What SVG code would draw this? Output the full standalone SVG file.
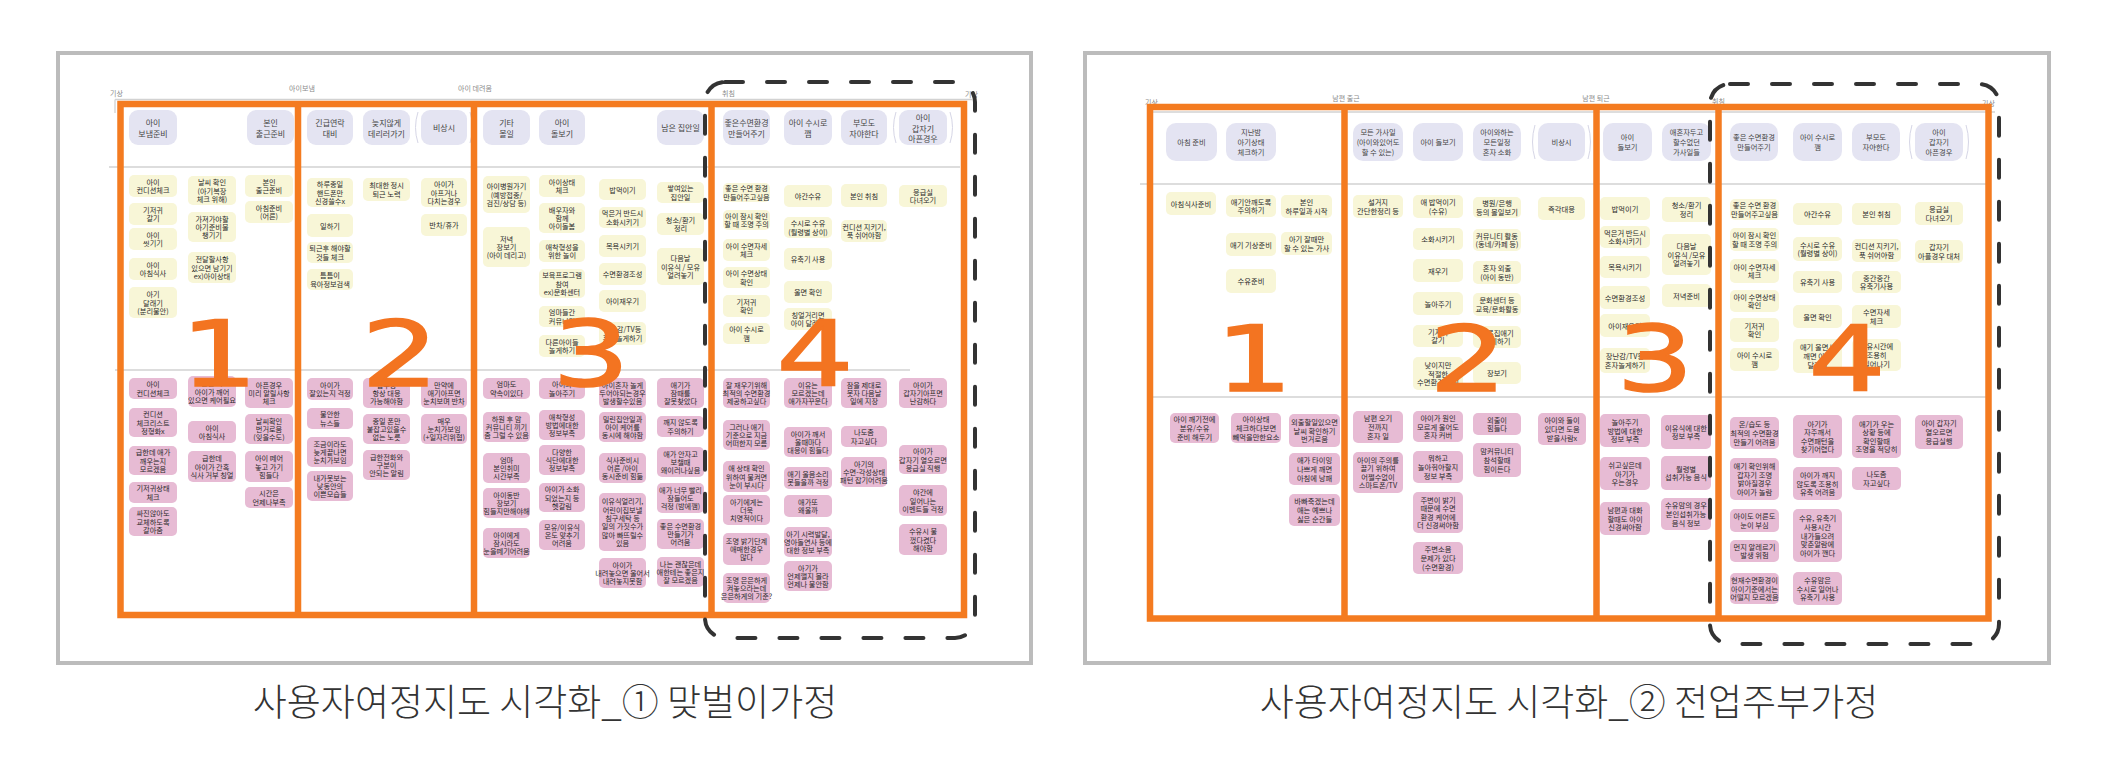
<svg xmlns="http://www.w3.org/2000/svg" width="2109" height="778" viewBox="0 0 2109 778">
<style>
.y{fill:#f8f6d7}.p{fill:#e7bbd4}.h{fill:#e4e4f2}
.t{font-family:"Noto Sans CJK KR","Noto Sans",sans-serif;font-size:7.2px;fill:#2a2a2a;text-anchor:middle;dominant-baseline:central}
.r .t{font-size:7.3px}
.ht{font-size:8px;fill:#444}
.lab{font-family:"Noto Sans CJK KR","Noto Sans",sans-serif;font-size:7px;fill:#8a8a8a}
.dg{font-family:"DejaVu Sans",sans-serif;font-size:122px;fill:#f37421;stroke:#f37421;stroke-width:2;text-anchor:middle}
.cap{font-family:"Noto Sans CJK KR","Noto Sans",sans-serif;font-size:37px;font-weight:300;fill:#333;text-anchor:middle}
.sep{stroke:#d2d2d2;stroke-width:1.3;fill:none}
.par{stroke:#d6d6e6;stroke-width:1;fill:none}
.of{fill:none;stroke:#f47b20;stroke-width:6.5}
.dash{fill:none;stroke:#333;stroke-width:4;stroke-dasharray:18 24;stroke-linecap:round}
.pan{fill:#fff;stroke:#bcbcbc;stroke-width:4}
</style>
<rect width="2109" height="778" fill="#fff"/>

<g id="journey-1">
<rect class="pan" x="58" y="53" width="973" height="610"/>
<text class="lab" x="110" y="96">기상</text>
<text class="lab" x="302" y="91" text-anchor="middle">아이보냄</text>
<text class="lab" x="475" y="91" text-anchor="middle">아이 데려옴</text>
<text class="lab" x="722" y="96">취침</text>
<text class="lab" x="965" y="97">기상</text>
<path class="sep" d="M115 99.5H972M115 99.5V113M109 167H960M115 370H910"/>

<g id="a-h1"><rect class="h" x="129" y="110" width="48" height="35" rx="9"/><text class="t ht" x="153" y="122.5">아이<tspan x="153" dy="10">보냄준비</tspan></text></g>
<g id="a-h2"><rect class="h" x="247" y="110" width="47" height="35" rx="9"/><text class="t ht" x="270.5" y="122.5">본인<tspan x="270.5" dy="10">출근준비</tspan></text></g>
<g id="a-h3"><rect class="h" x="307" y="110" width="46" height="35" rx="9"/><text class="t ht" x="330" y="122.5">긴급연락<tspan x="330" dy="10">대비</tspan></text></g>
<g id="a-h4"><rect class="h" x="363" y="110" width="47" height="35" rx="9"/><text class="t ht" x="386.5" y="122.5">늦지않게<tspan x="386.5" dy="10">데리러가기</tspan></text></g>
<g id="a-h5"><rect class="h" x="421" y="110" width="46" height="35" rx="9"/><path class="par" d="M418 112Q413 127.5 418 143M470 112Q475 127.5 470 143"/><text class="t ht" x="444" y="127.5">비상시</text></g>
<g id="a-h6"><rect class="h" x="483" y="110" width="47" height="35" rx="9"/><text class="t ht" x="506.5" y="122.5">기타<tspan x="506.5" dy="10">볼일</tspan></text></g>
<g id="a-h7"><rect class="h" x="539" y="110" width="46" height="35" rx="9"/><text class="t ht" x="562" y="122.5">아이<tspan x="562" dy="10">돌보기</tspan></text></g>
<g id="a-h8"><rect class="h" x="657" y="110" width="47" height="35" rx="9"/><text class="t ht" x="680.5" y="127.5">남은 집안일</text></g>
<g id="a-h9"><rect class="h" x="723" y="110" width="47" height="35" rx="9"/><text class="t ht" x="746.5" y="122.5">좋은수면환경<tspan x="746.5" dy="10">만들어주기</tspan></text></g>
<g id="a-h10"><rect class="h" x="784" y="110" width="48" height="35" rx="9"/><text class="t ht" x="808" y="122.5">아이 수시로<tspan x="808" dy="10">깸</tspan></text></g>
<g id="a-h11"><rect class="h" x="841" y="110" width="46" height="35" rx="9"/><text class="t ht" x="864" y="122.5">부모도<tspan x="864" dy="10">자야한다</tspan></text></g>
<g id="a-h12"><rect class="h" x="899" y="110" width="48" height="35" rx="9"/><path class="par" d="M896 112Q891 127.5 896 143M950 112Q955 127.5 950 143"/><text class="t ht" x="923" y="117.5">아이<tspan x="923" dy="10">갑자기</tspan><tspan x="923" dy="10">아픈경우</tspan></text></g>

<g id="a-y1"><rect class="y" x="129" y="175" width="48" height="22" rx="5"/><text class="t" x="153" y="181.9">아이<tspan x="153" dy="8.3">컨디션체크</tspan></text></g>
<g id="a-y2"><rect class="y" x="129" y="203" width="48" height="22" rx="5"/><text class="t" x="153" y="209.9">기저귀<tspan x="153" dy="8.3">갈기</tspan></text></g>
<g id="a-y3"><rect class="y" x="129" y="228" width="48" height="22" rx="5"/><text class="t" x="153" y="234.9">아이<tspan x="153" dy="8.3">씻기기</tspan></text></g>
<g id="a-y4"><rect class="y" x="129" y="258" width="48" height="22" rx="5"/><text class="t" x="153" y="264.9">아이<tspan x="153" dy="8.3">아침식사</tspan></text></g>
<g id="a-y5"><rect class="y" x="129" y="287" width="48" height="31" rx="5"/><text class="t" x="153" y="294.2">아기<tspan x="153" dy="8.3">달래기</tspan><tspan x="153" dy="8.3">(분리불안)</tspan></text></g>
<g id="a-y6"><rect class="y" x="188" y="176" width="48" height="29" rx="5"/><text class="t" x="212" y="182.2">날씨 확인<tspan x="212" dy="8.3">(아기복장</tspan><tspan x="212" dy="8.3">체크 위해)</tspan></text></g>
<g id="a-y7"><rect class="y" x="188" y="212" width="48" height="30" rx="5"/><text class="t" x="212" y="218.7">가져가야할<tspan x="212" dy="8.3">아기준비물</tspan><tspan x="212" dy="8.3">챙기기</tspan></text></g>
<g id="a-y8"><rect class="y" x="188" y="252" width="48" height="31" rx="5"/><text class="t" x="212" y="259.2">전달할사항<tspan x="212" dy="8.3">있으면 남기기</tspan><tspan x="212" dy="8.3">ex)아이상태</tspan></text></g>
<g id="a-y9"><rect class="y" x="245" y="175" width="48" height="22" rx="5"/><text class="t" x="269" y="181.9">본인<tspan x="269" dy="8.3">출근준비</tspan></text></g>
<g id="a-y10"><rect class="y" x="245" y="201" width="48" height="22" rx="5"/><text class="t" x="269" y="207.9">아침준비<tspan x="269" dy="8.3">(어른)</tspan></text></g>
<g id="a-y11"><rect class="y" x="307" y="178" width="46" height="29" rx="5"/><text class="t" x="330" y="184.2">하루종일<tspan x="330" dy="8.3">핸드폰만</tspan><tspan x="330" dy="8.3">신경쓸수x</tspan></text></g>
<g id="a-y12"><rect class="y" x="307" y="214" width="46" height="23" rx="5"/><text class="t" x="330" y="225.5">일하기</text></g>
<g id="a-y13"><rect class="y" x="307" y="242" width="46" height="21" rx="5"/><text class="t" x="330" y="248.4">퇴근후 해야할<tspan x="330" dy="8.3">것들 체크</tspan></text></g>
<g id="a-y14"><rect class="y" x="307" y="269" width="46" height="21" rx="5"/><text class="t" x="330" y="275.4">틈틈이<tspan x="330" dy="8.3">육아정보검색</tspan></text></g>
<g id="a-y15"><rect class="y" x="363" y="178" width="47" height="23" rx="5"/><text class="t" x="386.5" y="185.4">최대한 정시<tspan x="386.5" dy="8.3">퇴근 노력</tspan></text></g>
<g id="a-y16"><rect class="y" x="421" y="178" width="46" height="29" rx="5"/><text class="t" x="444" y="184.2">아이가<tspan x="444" dy="8.3">아프거나</tspan><tspan x="444" dy="8.3">다치는경우</tspan></text></g>
<g id="a-y17"><rect class="y" x="421" y="214" width="46" height="22" rx="5"/><text class="t" x="444" y="225">반차/휴가</text></g>
<g id="a-y18"><rect class="y" x="483" y="176" width="47" height="37" rx="5"/><text class="t" x="506.5" y="186.2">아이병원가기<tspan x="506.5" dy="8.3">(예방접종/</tspan><tspan x="506.5" dy="8.3">검진/상담 등)</tspan></text></g>
<g id="a-y19"><rect class="y" x="483" y="227" width="47" height="40" rx="5"/><text class="t" x="506.5" y="238.7">저녁<tspan x="506.5" dy="8.3">장보기</tspan><tspan x="506.5" dy="8.3">(아이 데리고)</tspan></text></g>
<g id="a-y20"><rect class="y" x="539" y="175" width="46" height="22" rx="5"/><text class="t" x="562" y="181.9">아이상태<tspan x="562" dy="8.3">체크</tspan></text></g>
<g id="a-y21"><rect class="y" x="539" y="203" width="46" height="30" rx="5"/><text class="t" x="562" y="209.7">배우자와<tspan x="562" dy="8.3">함께</tspan><tspan x="562" dy="8.3">아이돌봄</tspan></text></g>
<g id="a-y22"><rect class="y" x="539" y="240" width="46" height="22" rx="5"/><text class="t" x="562" y="246.9">애착형성을<tspan x="562" dy="8.3">위한 놀이</tspan></text></g>
<g id="a-y23"><rect class="y" x="539" y="269" width="46" height="29" rx="5"/><text class="t" x="562" y="275.2">보육프로그램<tspan x="562" dy="8.3">참여</tspan><tspan x="562" dy="8.3">ex)문화센터</tspan></text></g>
<g id="a-y24"><rect class="y" x="539" y="306" width="46" height="21" rx="5"/><text class="t" x="562" y="312.4">엄마들간<tspan x="562" dy="8.3">커뮤니티</tspan></text></g>
<g id="a-y25"><rect class="y" x="539" y="335" width="46" height="22" rx="5"/><text class="t" x="562" y="341.9">다른아이들<tspan x="562" dy="8.3">놀게하기</tspan></text></g>
<g id="a-y26"><rect class="y" x="599" y="179" width="47" height="21" rx="5"/><text class="t" x="622.5" y="189.5">밥먹이기</text></g>
<g id="a-y27"><rect class="y" x="599" y="207" width="47" height="21" rx="5"/><text class="t" x="622.5" y="213.4">먹은거 반드시<tspan x="622.5" dy="8.3">소화시키기</tspan></text></g>
<g id="a-y28"><rect class="y" x="599" y="235" width="47" height="22" rx="5"/><text class="t" x="622.5" y="246">목욕시키기</text></g>
<g id="a-y29"><rect class="y" x="599" y="263" width="47" height="22" rx="5"/><text class="t" x="622.5" y="274">수면환경조성</text></g>
<g id="a-y30"><rect class="y" x="599" y="290" width="47" height="22" rx="5"/><text class="t" x="622.5" y="301">아이재우기</text></g>
<g id="a-y31"><rect class="y" x="599" y="322" width="47" height="23" rx="5"/><text class="t" x="622.5" y="329.4">장난감/TV등<tspan x="622.5" dy="8.3">혼자놀게하기</tspan></text></g>
<g id="a-y32"><rect class="y" x="657" y="182" width="47" height="21" rx="5"/><text class="t" x="680.5" y="188.4">쌓여있는<tspan x="680.5" dy="8.3">집안일</tspan></text></g>
<g id="a-y33"><rect class="y" x="657" y="213" width="47" height="22" rx="5"/><text class="t" x="680.5" y="219.9">청소/환기<tspan x="680.5" dy="8.3">정리</tspan></text></g>
<g id="a-y34"><rect class="y" x="657" y="248" width="47" height="37" rx="5"/><text class="t" x="680.5" y="258.2">다음날<tspan x="680.5" dy="8.3">이유식 / 모유</tspan><tspan x="680.5" dy="8.3">얼려놓기</tspan></text></g>
<g id="a-y35"><rect class="y" x="723" y="183" width="47" height="19" rx="5"/><text class="t" x="746.5" y="188.4">좋은 수면 환경<tspan x="746.5" dy="8.3">만들어주고싶음</tspan></text></g>
<g id="a-y36"><rect class="y" x="723" y="210" width="47" height="20" rx="5"/><text class="t" x="746.5" y="215.9">아이 잠시 확인<tspan x="746.5" dy="8.3">할 때 조명 주의</tspan></text></g>
<g id="a-y37"><rect class="y" x="723" y="239" width="47" height="22" rx="5"/><text class="t" x="746.5" y="245.9">아이 수면자세<tspan x="746.5" dy="8.3">체크</tspan></text></g>
<g id="a-y38"><rect class="y" x="723" y="267" width="47" height="21" rx="5"/><text class="t" x="746.5" y="273.4">아이 수면상태<tspan x="746.5" dy="8.3">확인</tspan></text></g>
<g id="a-y39"><rect class="y" x="723" y="295" width="47" height="22" rx="5"/><text class="t" x="746.5" y="301.9">기저귀<tspan x="746.5" dy="8.3">확인</tspan></text></g>
<g id="a-y40"><rect class="y" x="723" y="323" width="47" height="21" rx="5"/><text class="t" x="746.5" y="329.4">아이 수시로<tspan x="746.5" dy="8.3">깸</tspan></text></g>
<g id="a-y41"><rect class="y" x="784" y="185" width="48" height="22" rx="5"/><text class="t" x="808" y="196">야간수유</text></g>
<g id="a-y42"><rect class="y" x="784" y="217" width="48" height="21" rx="5"/><text class="t" x="808" y="223.4">수시로 수유<tspan x="808" dy="8.3">(월령별 상이)</tspan></text></g>
<g id="a-y43"><rect class="y" x="784" y="248" width="48" height="22" rx="5"/><text class="t" x="808" y="259">유축기 사용</text></g>
<g id="a-y44"><rect class="y" x="784" y="281" width="48" height="22" rx="5"/><text class="t" x="808" y="292">울면 확인</text></g>
<g id="a-y45"><rect class="y" x="784" y="308" width="48" height="22" rx="5"/><text class="t" x="808" y="314.9">칭얼거리면<tspan x="808" dy="8.3">아이 달래기</tspan></text></g>
<g id="a-y46"><rect class="y" x="841" y="184" width="46" height="23" rx="5"/><text class="t" x="864" y="195.5">본인 취침</text></g>
<g id="a-y47"><rect class="y" x="841" y="220" width="46" height="22" rx="5"/><text class="t" x="864" y="226.9">컨디션 지키기,<tspan x="864" dy="8.3">푹 쉬어야함</tspan></text></g>
<g id="a-y48"><rect class="y" x="899" y="185" width="48" height="22" rx="5"/><text class="t" x="923" y="191.9">응급실<tspan x="923" dy="8.3">다녀오기</tspan></text></g>

<g id="a-p1"><rect class="p" x="129" y="378" width="48" height="21" rx="5"/><text class="t" x="153" y="384.4">아이<tspan x="153" dy="8.3">컨디션체크</tspan></text></g>
<g id="a-p2"><rect class="p" x="129" y="408" width="48" height="29" rx="5"/><text class="t" x="153" y="414.2">컨디션<tspan x="153" dy="8.3">체크리스트</tspan><tspan x="153" dy="8.3">정형화x</tspan></text></g>
<g id="a-p3"><rect class="p" x="129" y="446" width="48" height="29" rx="5"/><text class="t" x="153" y="452.2">급한데 애가<tspan x="153" dy="8.3">깨우는지</tspan><tspan x="153" dy="8.3">모르겠음</tspan></text></g>
<g id="a-p4"><rect class="p" x="129" y="482" width="48" height="21" rx="5"/><text class="t" x="153" y="488.4">기저귀상태<tspan x="153" dy="8.3">체크</tspan></text></g>
<g id="a-p5"><rect class="p" x="129" y="507" width="48" height="29" rx="5"/><text class="t" x="153" y="513.2">싸진않아도<tspan x="153" dy="8.3">교체하도록</tspan><tspan x="153" dy="8.3">갈아줌</tspan></text></g>
<g id="a-p6"><rect class="p" x="188" y="376" width="48" height="31" rx="5"/><text class="t" x="212" y="383.2">출근 시<tspan x="212" dy="8.3">아이가 깨어</tspan><tspan x="212" dy="8.3">있으면 케어필요</tspan></text></g>
<g id="a-p7"><rect class="p" x="188" y="421" width="48" height="22" rx="5"/><text class="t" x="212" y="427.9">아이<tspan x="212" dy="8.3">아침식사</tspan></text></g>
<g id="a-p8"><rect class="p" x="188" y="451" width="48" height="31" rx="5"/><text class="t" x="212" y="458.2">급한데<tspan x="212" dy="8.3">아이가 간혹</tspan><tspan x="212" dy="8.3">식사 거부 칭얼</tspan></text></g>
<g id="a-p9"><rect class="p" x="245" y="378" width="48" height="30" rx="5"/><text class="t" x="269" y="384.7">아픈경우<tspan x="269" dy="8.3">미리 알릴사항</tspan><tspan x="269" dy="8.3">체크</tspan></text></g>
<g id="a-p10"><rect class="p" x="245" y="414" width="48" height="30" rx="5"/><text class="t" x="269" y="420.7">날씨확인<tspan x="269" dy="8.3">번거로움</tspan><tspan x="269" dy="8.3">(잊을수도)</tspan></text></g>
<g id="a-p11"><rect class="p" x="245" y="451" width="48" height="31" rx="5"/><text class="t" x="269" y="458.2">아이 떼어<tspan x="269" dy="8.3">놓고 가기</tspan><tspan x="269" dy="8.3">힘들다</tspan></text></g>
<g id="a-p12"><rect class="p" x="245" y="487" width="48" height="21" rx="5"/><text class="t" x="269" y="493.4">시간은<tspan x="269" dy="8.3">언제나부족</tspan></text></g>
<g id="a-p13"><rect class="p" x="307" y="378" width="46" height="22" rx="5"/><text class="t" x="330" y="384.9">아이가<tspan x="330" dy="8.3">잘있는지 걱정</tspan></text></g>
<g id="a-p14"><rect class="p" x="307" y="408" width="46" height="21" rx="5"/><text class="t" x="330" y="414.4">불안한<tspan x="330" dy="8.3">뉴스들</tspan></text></g>
<g id="a-p15"><rect class="p" x="307" y="437" width="46" height="30" rx="5"/><text class="t" x="330" y="443.7">조금이라도<tspan x="330" dy="8.3">늦게끝나면</tspan><tspan x="330" dy="8.3">눈치가보임</tspan></text></g>
<g id="a-p16"><rect class="p" x="307" y="471" width="46" height="30" rx="5"/><text class="t" x="330" y="477.7">내가못보는<tspan x="330" dy="8.3">낮동안의</tspan><tspan x="330" dy="8.3">이쁜모습들</tspan></text></g>
<g id="a-p17"><rect class="p" x="363" y="378" width="47" height="30" rx="5"/><text class="t" x="386.5" y="384.7">업무중<tspan x="386.5" dy="8.3">항상 대응</tspan><tspan x="386.5" dy="8.3">가능해야함</tspan></text></g>
<g id="a-p18"><rect class="p" x="363" y="414" width="47" height="30" rx="5"/><text class="t" x="386.5" y="420.7">종일 폰만<tspan x="386.5" dy="8.3">붙잡고있을수</tspan><tspan x="386.5" dy="8.3">없는 노릇</tspan></text></g>
<g id="a-p19"><rect class="p" x="363" y="450" width="47" height="30" rx="5"/><text class="t" x="386.5" y="456.7">급한전화와<tspan x="386.5" dy="8.3">구분이</tspan><tspan x="386.5" dy="8.3">안되는 알림</tspan></text></g>
<g id="a-p20"><rect class="p" x="421" y="378" width="46" height="30" rx="5"/><text class="t" x="444" y="384.7">만약에<tspan x="444" dy="8.3">애기아프면</tspan><tspan x="444" dy="8.3">눈치보며 반차</tspan></text></g>
<g id="a-p21"><rect class="p" x="421" y="414" width="46" height="30" rx="5"/><text class="t" x="444" y="420.7">매우<tspan x="444" dy="8.3">눈치가보임</tspan><tspan x="444" dy="8.3">(+일자리위협)</tspan></text></g>
<g id="a-p22"><rect class="p" x="483" y="378" width="47" height="21" rx="5"/><text class="t" x="506.5" y="384.4">엄마도<tspan x="506.5" dy="8.3">약속이있다</tspan></text></g>
<g id="a-p23"><rect class="p" x="483" y="412" width="47" height="30" rx="5"/><text class="t" x="506.5" y="418.7">하원 후 맘<tspan x="506.5" dy="8.3">커뮤니티 끼기</tspan><tspan x="506.5" dy="8.3">좀 그럴 수 있음</tspan></text></g>
<g id="a-p24"><rect class="p" x="483" y="453" width="47" height="30" rx="5"/><text class="t" x="506.5" y="459.7">엄마<tspan x="506.5" dy="8.3">본인취미</tspan><tspan x="506.5" dy="8.3">시간부족</tspan></text></g>
<g id="a-p25"><rect class="p" x="483" y="488" width="47" height="30" rx="5"/><text class="t" x="506.5" y="494.7">아이동반<tspan x="506.5" dy="8.3">장보기</tspan><tspan x="506.5" dy="8.3">힘들지만해야해</tspan></text></g>
<g id="a-p26"><rect class="p" x="483" y="528" width="47" height="30" rx="5"/><text class="t" x="506.5" y="534.7">아이에게<tspan x="506.5" dy="8.3">잠시라도</tspan><tspan x="506.5" dy="8.3">눈을떼기어려움</tspan></text></g>
<g id="a-p27"><rect class="p" x="539" y="378" width="46" height="21" rx="5"/><text class="t" x="562" y="384.4">아이와<tspan x="562" dy="8.3">놀아주기</tspan></text></g>
<g id="a-p28"><rect class="p" x="539" y="410" width="46" height="30" rx="5"/><text class="t" x="562" y="416.7">애착형성<tspan x="562" dy="8.3">방법에대한</tspan><tspan x="562" dy="8.3">정보부족</tspan></text></g>
<g id="a-p29"><rect class="p" x="539" y="445" width="46" height="30" rx="5"/><text class="t" x="562" y="451.7">다양한<tspan x="562" dy="8.3">식단에대한</tspan><tspan x="562" dy="8.3">정보부족</tspan></text></g>
<g id="a-p30"><rect class="p" x="539" y="483" width="46" height="29" rx="5"/><text class="t" x="562" y="489.2">아이가 소화<tspan x="562" dy="8.3">되었는지 등</tspan><tspan x="562" dy="8.3">헷갈림</tspan></text></g>
<g id="a-p31"><rect class="p" x="539" y="520" width="46" height="30" rx="5"/><text class="t" x="562" y="526.7">모유/이유식<tspan x="562" dy="8.3">온도 맞추기</tspan><tspan x="562" dy="8.3">어려움</tspan></text></g>
<g id="a-p32"><rect class="p" x="599" y="378" width="47" height="30" rx="5"/><text class="t" x="622.5" y="384.7">아이혼자 놀게<tspan x="622.5" dy="8.3">두어야되는경우</tspan><tspan x="622.5" dy="8.3">발생할수있음</tspan></text></g>
<g id="a-p33"><rect class="p" x="599" y="412" width="47" height="30" rx="5"/><text class="t" x="622.5" y="418.7">밀린집안일과<tspan x="622.5" dy="8.3">아이 케어를</tspan><tspan x="622.5" dy="8.3">동시에 해야함</tspan></text></g>
<g id="a-p34"><rect class="p" x="599" y="453" width="47" height="30" rx="5"/><text class="t" x="622.5" y="459.7">식사준비시<tspan x="622.5" dy="8.3">어른 /아이</tspan><tspan x="622.5" dy="8.3">동시준비 힘듦</tspan></text></g>
<g id="a-p35"><rect class="p" x="599" y="493" width="47" height="58" rx="5"/><text class="t" x="622.5" y="501.3">이유식얼리기,<tspan x="622.5" dy="8.3">어린이집보낼</tspan><tspan x="622.5" dy="8.3">침구세탁 등</tspan><tspan x="622.5" dy="8.3">일의 가짓수가</tspan><tspan x="622.5" dy="8.3">많아 빠뜨릴수</tspan><tspan x="622.5" dy="8.3">있음</tspan></text></g>
<g id="a-p36"><rect class="p" x="599" y="558" width="47" height="30" rx="5"/><text class="t" x="622.5" y="564.7">아이가<tspan x="622.5" dy="8.3">내려놓으면 울어서</tspan><tspan x="622.5" dy="8.3">내려놓지못함</tspan></text></g>
<g id="a-p37"><rect class="p" x="657" y="378" width="47" height="30" rx="5"/><text class="t" x="680.5" y="384.7">애기가<tspan x="680.5" dy="8.3">잠때를</tspan><tspan x="680.5" dy="8.3">잘못찾았다</tspan></text></g>
<g id="a-p38"><rect class="p" x="657" y="416" width="47" height="21" rx="5"/><text class="t" x="680.5" y="422.4">깨지 않도록<tspan x="680.5" dy="8.3">주의하기</tspan></text></g>
<g id="a-p39"><rect class="p" x="657" y="447" width="47" height="30" rx="5"/><text class="t" x="680.5" y="453.7">애가 안자고<tspan x="680.5" dy="8.3">보챌때</tspan><tspan x="680.5" dy="8.3">왜이러나싶음</tspan></text></g>
<g id="a-p40"><rect class="p" x="657" y="483" width="47" height="30" rx="5"/><text class="t" x="680.5" y="489.7">애가 너무 빨리<tspan x="680.5" dy="8.3">잠들어도</tspan><tspan x="680.5" dy="8.3">걱정 (밤에깸)</tspan></text></g>
<g id="a-p41"><rect class="p" x="657" y="519" width="47" height="30" rx="5"/><text class="t" x="680.5" y="525.7">좋은 수면환경<tspan x="680.5" dy="8.3">만들기가</tspan><tspan x="680.5" dy="8.3">어려움</tspan></text></g>
<g id="a-p42"><rect class="p" x="657" y="557" width="47" height="30" rx="5"/><text class="t" x="680.5" y="563.7">나는 괜찮은데<tspan x="680.5" dy="8.3">애한테는 좋은지</tspan><tspan x="680.5" dy="8.3">잘 모르겠음</tspan></text></g>
<g id="a-p43"><rect class="p" x="723" y="378" width="47" height="30" rx="5"/><text class="t" x="746.5" y="384.7">잘 재우기위해<tspan x="746.5" dy="8.3">최적의 수면환경</tspan><tspan x="746.5" dy="8.3">제공하고싶다</tspan></text></g>
<g id="a-p44"><rect class="p" x="723" y="420" width="47" height="30" rx="5"/><text class="t" x="746.5" y="426.7">그러나 애기<tspan x="746.5" dy="8.3">기준으로 지금</tspan><tspan x="746.5" dy="8.3">어떠한지 모름</tspan></text></g>
<g id="a-p45"><rect class="p" x="723" y="461" width="47" height="31" rx="5"/><text class="t" x="746.5" y="468.2">애 상태 확인<tspan x="746.5" dy="8.3">위하여 불켜면</tspan><tspan x="746.5" dy="8.3">눈이 부시다</tspan></text></g>
<g id="a-p46"><rect class="p" x="723" y="495" width="47" height="30" rx="5"/><text class="t" x="746.5" y="501.7">아기에게는<tspan x="746.5" dy="8.3">더욱</tspan><tspan x="746.5" dy="8.3">치명적이다</tspan></text></g>
<g id="a-p47"><rect class="p" x="723" y="533" width="47" height="32" rx="5"/><text class="t" x="746.5" y="540.7">조명 밝기단계<tspan x="746.5" dy="8.3">애매한경우</tspan><tspan x="746.5" dy="8.3">많다</tspan></text></g>
<g id="a-p48"><rect class="p" x="723" y="573" width="47" height="30" rx="5"/><text class="t" x="746.5" y="579.7">조명 은은하게<tspan x="746.5" dy="8.3">켜놓으라는데</tspan><tspan x="746.5" dy="8.3">은은하게의 기준?</tspan></text></g>
<g id="a-p49"><rect class="p" x="784" y="378" width="48" height="30" rx="5"/><text class="t" x="808" y="384.7">이유는<tspan x="808" dy="8.3">모르겠는데</tspan><tspan x="808" dy="8.3">애가자꾸운다</tspan></text></g>
<g id="a-p50"><rect class="p" x="784" y="427" width="48" height="30" rx="5"/><text class="t" x="808" y="433.7">아이가 깨서<tspan x="808" dy="8.3">울때마다</tspan><tspan x="808" dy="8.3">대응이 힘들다</tspan></text></g>
<g id="a-p51"><rect class="p" x="784" y="467" width="48" height="22" rx="5"/><text class="t" x="808" y="473.9">애기 울음소리<tspan x="808" dy="8.3">못들을까 걱정</tspan></text></g>
<g id="a-p52"><rect class="p" x="784" y="495" width="48" height="22" rx="5"/><text class="t" x="808" y="501.9">애가또<tspan x="808" dy="8.3">왜울까</tspan></text></g>
<g id="a-p53"><rect class="p" x="784" y="527" width="48" height="30" rx="5"/><text class="t" x="808" y="533.7">아기 시력발달,<tspan x="808" dy="8.3">영아돌연사 등에</tspan><tspan x="808" dy="8.3">대한 정보 부족</tspan></text></g>
<g id="a-p54"><rect class="p" x="784" y="561" width="48" height="30" rx="5"/><text class="t" x="808" y="567.7">아기가<tspan x="808" dy="8.3">언제깰지 몰라</tspan><tspan x="808" dy="8.3">언제나 불안함</tspan></text></g>
<g id="a-p55"><rect class="p" x="841" y="378" width="46" height="30" rx="5"/><text class="t" x="864" y="384.7">잠을 제대로<tspan x="864" dy="8.3">못자 다음날</tspan><tspan x="864" dy="8.3">일에 지장</tspan></text></g>
<g id="a-p56"><rect class="p" x="841" y="426" width="46" height="21" rx="5"/><text class="t" x="864" y="432.4">나도좀<tspan x="864" dy="8.3">자고싶다</tspan></text></g>
<g id="a-p57"><rect class="p" x="841" y="457" width="46" height="30" rx="5"/><text class="t" x="864" y="463.7">아기의<tspan x="864" dy="8.3">수면-각성상태</tspan><tspan x="864" dy="8.3">패턴 잡기어려움</tspan></text></g>
<g id="a-p58"><rect class="p" x="899" y="378" width="48" height="30" rx="5"/><text class="t" x="923" y="384.7">아이가<tspan x="923" dy="8.3">갑자기아프면</tspan><tspan x="923" dy="8.3">난감하다</tspan></text></g>
<g id="a-p59"><rect class="p" x="899" y="445" width="48" height="29" rx="5"/><text class="t" x="923" y="451.2">아이가<tspan x="923" dy="8.3">갑자기 열오르면</tspan><tspan x="923" dy="8.3">응급실 직행</tspan></text></g>
<g id="a-p60"><rect class="p" x="899" y="485" width="48" height="31" rx="5"/><text class="t" x="923" y="492.2">야간에<tspan x="923" dy="8.3">일어나는</tspan><tspan x="923" dy="8.3">이벤트들 걱정</tspan></text></g>
<g id="a-p61"><rect class="p" x="899" y="524" width="48" height="31" rx="5"/><text class="t" x="923" y="531.2">수유시 불<tspan x="923" dy="8.3">껐다켰다</tspan><tspan x="923" dy="8.3">해야함</tspan></text></g>

<g id="a-frame"><rect class="of" x="120.5" y="104" width="843.5" height="511"/><path class="of" d="M298 104V615M474 104V615M711.5 104V615"/></g>
<g id="a-digits">
<text class="dg" transform="translate(219 386) scale(1 0.74)">1</text>
<text class="dg" transform="translate(400 386) scale(1 0.74)">2</text>
<text class="dg" transform="translate(591 386) scale(1 0.74)">3</text>
<text class="dg" transform="translate(815 386) scale(1 0.74)">4</text>
</g>
<rect id="a-focus" class="dash" x="705" y="82" width="270" height="556" rx="20"/>
</g>

<g id="journey-2" class="r">
<rect class="pan" x="1085" y="53" width="964" height="610"/>
<text class="lab" x="1145" y="105">기상</text>
<text class="lab" x="1346" y="101" text-anchor="middle">남편 출근</text>
<text class="lab" x="1596" y="101" text-anchor="middle">남편 퇴근</text>
<text class="lab" x="1712" y="104">취침</text>
<text class="lab" x="1982" y="106">기상</text>
<path class="sep" d="M1148 112H1995M1140 184H1990M1150 397H1990"/>

<g id="b-h1"><rect class="h" x="1166" y="123" width="51" height="38" rx="10"/><text class="t ht" x="1191.5" y="142">아침 준비</text></g>
<g id="b-h2"><rect class="h" x="1226" y="123" width="50" height="38" rx="10"/><text class="t ht" x="1251" y="132">지난밤<tspan x="1251" dy="10">아기상태</tspan><tspan x="1251" dy="10">체크하기</tspan></text></g>
<g id="b-h3"><rect class="h" x="1353" y="123" width="50" height="38" rx="10"/><text class="t ht" x="1378" y="132">모든 가사일<tspan x="1378" dy="10">(아이와있어도</tspan><tspan x="1378" dy="10">할 수 있는)</tspan></text></g>
<g id="b-h4"><rect class="h" x="1413" y="123" width="50" height="38" rx="10"/><text class="t ht" x="1438" y="142">아이 돌보기</text></g>
<g id="b-h5"><rect class="h" x="1473" y="123" width="48" height="38" rx="10"/><text class="t ht" x="1497" y="132">아이와하는<tspan x="1497" dy="10">모든일정</tspan><tspan x="1497" dy="10">혼자 소화</tspan></text></g>
<g id="b-h6"><rect class="h" x="1538" y="123" width="47" height="38" rx="10"/><path class="par" d="M1535 125Q1530 142 1535 159M1588 125Q1593 142 1588 159"/><text class="t ht" x="1561.5" y="142">비상시</text></g>
<g id="b-h7"><rect class="h" x="1603" y="123" width="49" height="38" rx="10"/><text class="t ht" x="1627.5" y="137">아이<tspan x="1627.5" dy="10">돌보기</tspan></text></g>
<g id="b-h8"><rect class="h" x="1662" y="123" width="49" height="38" rx="10"/><text class="t ht" x="1686.5" y="132">애혼자두고<tspan x="1686.5" dy="10">할수없던</tspan><tspan x="1686.5" dy="10">가사일들</tspan></text></g>
<g id="b-h9"><rect class="h" x="1730" y="123" width="48" height="38" rx="10"/><text class="t ht" x="1754" y="137">좋은 수면환경<tspan x="1754" dy="10">만들어주기</tspan></text></g>
<g id="b-h10"><rect class="h" x="1793" y="123" width="49" height="38" rx="10"/><text class="t ht" x="1817.5" y="137">아이 수시로<tspan x="1817.5" dy="10">깸</tspan></text></g>
<g id="b-h11"><rect class="h" x="1852" y="123" width="48" height="38" rx="10"/><text class="t ht" x="1876" y="137">부모도<tspan x="1876" dy="10">자야한다</tspan></text></g>
<g id="b-h12"><rect class="h" x="1915" y="123" width="48" height="38" rx="10"/><path class="par" d="M1912 125Q1907 142 1912 159M1966 125Q1971 142 1966 159"/><text class="t ht" x="1939" y="132">아이<tspan x="1939" dy="10">갑자기</tspan><tspan x="1939" dy="10">아픈경우</tspan></text></g>

<g id="b-y1"><rect class="y" x="1166" y="192" width="50" height="23" rx="5"/><text class="t" x="1191" y="203.5">아침식사준비</text></g>
<g id="b-y2"><rect class="y" x="1226" y="195" width="50" height="22" rx="5"/><text class="t" x="1251" y="201.7">애기안깨도록<tspan x="1251" dy="8.6">주의하기</tspan></text></g>
<g id="b-y3"><rect class="y" x="1226" y="233" width="50" height="23" rx="5"/><text class="t" x="1251" y="244.5">애기 기상준비</text></g>
<g id="b-y4"><rect class="y" x="1226" y="269" width="50" height="24" rx="5"/><text class="t" x="1251" y="281">수유준비</text></g>
<g id="b-y5"><rect class="y" x="1281" y="195" width="51" height="23" rx="5"/><text class="t" x="1306.5" y="202.2">본인<tspan x="1306.5" dy="8.6">하루일과 시작</tspan></text></g>
<g id="b-y6"><rect class="y" x="1281" y="232" width="51" height="23" rx="5"/><text class="t" x="1306.5" y="239.2">아기 잘때만<tspan x="1306.5" dy="8.6">할 수 있는 가사</tspan></text></g>
<g id="b-y7"><rect class="y" x="1353" y="195" width="50" height="23" rx="5"/><text class="t" x="1378" y="202.2">설거지<tspan x="1378" dy="8.6">간단한정리 등</tspan></text></g>
<g id="b-y8"><rect class="y" x="1413" y="195" width="50" height="23" rx="5"/><text class="t" x="1438" y="202.2">애 밥먹이기<tspan x="1438" dy="8.6">(수유)</tspan></text></g>
<g id="b-y9"><rect class="y" x="1413" y="228" width="50" height="22" rx="5"/><text class="t" x="1438" y="239">소화시키기</text></g>
<g id="b-y10"><rect class="y" x="1413" y="259" width="50" height="23" rx="5"/><text class="t" x="1438" y="270.5">재우기</text></g>
<g id="b-y11"><rect class="y" x="1413" y="292" width="50" height="23" rx="5"/><text class="t" x="1438" y="303.5">놀아주기</text></g>
<g id="b-y12"><rect class="y" x="1413" y="325" width="50" height="22" rx="5"/><text class="t" x="1438" y="331.7">기저귀<tspan x="1438" dy="8.6">갈기</tspan></text></g>
<g id="b-y13"><rect class="y" x="1413" y="357" width="50" height="33" rx="5"/><text class="t" x="1438" y="364.9">낮이지만<tspan x="1438" dy="8.6">적절한</tspan><tspan x="1438" dy="8.6">수면환경 조성</tspan></text></g>
<g id="b-y14"><rect class="y" x="1473" y="197" width="48" height="21" rx="5"/><text class="t" x="1497" y="203.2">병원/은행<tspan x="1497" dy="8.6">등의 볼일보기</tspan></text></g>
<g id="b-y15"><rect class="y" x="1473" y="229" width="48" height="22" rx="5"/><text class="t" x="1497" y="235.7">커뮤니티 활동<tspan x="1497" dy="8.6">(동네/카페 등)</tspan></text></g>
<g id="b-y16"><rect class="y" x="1473" y="261" width="48" height="23" rx="5"/><text class="t" x="1497" y="268.2">혼자 외출<tspan x="1497" dy="8.6">(아이 동반)</tspan></text></g>
<g id="b-y17"><rect class="y" x="1473" y="293" width="48" height="23" rx="5"/><text class="t" x="1497" y="300.2">문화센터 등<tspan x="1497" dy="8.6">교육/문화활동</tspan></text></g>
<g id="b-y18"><rect class="y" x="1473" y="326" width="48" height="22" rx="5"/><text class="t" x="1497" y="332.7">다른집애기<tspan x="1497" dy="8.6">놀게하기</tspan></text></g>
<g id="b-y19"><rect class="y" x="1473" y="362" width="48" height="22" rx="5"/><text class="t" x="1497" y="373">장보기</text></g>
<g id="b-y20"><rect class="y" x="1538" y="197" width="47" height="23" rx="5"/><text class="t" x="1561.5" y="208.5">즉각대응</text></g>
<g id="b-y21"><rect class="y" x="1600" y="197" width="50" height="23" rx="5"/><text class="t" x="1625" y="208.5">밥먹이기</text></g>
<g id="b-y22"><rect class="y" x="1600" y="226" width="50" height="22" rx="5"/><text class="t" x="1625" y="232.7">먹은거 반드시<tspan x="1625" dy="8.6">소화시키기</tspan></text></g>
<g id="b-y23"><rect class="y" x="1600" y="256" width="50" height="22" rx="5"/><text class="t" x="1625" y="267">목욕시키기</text></g>
<g id="b-y24"><rect class="y" x="1600" y="286" width="50" height="23" rx="5"/><text class="t" x="1625" y="297.5">수면환경조성</text></g>
<g id="b-y25"><rect class="y" x="1600" y="314" width="50" height="23" rx="5"/><text class="t" x="1625" y="325.5">아이재우기</text></g>
<g id="b-y26"><rect class="y" x="1600" y="348" width="50" height="25" rx="5"/><text class="t" x="1625" y="356.2">장난감/TV등<tspan x="1625" dy="8.6">혼자놀게하기</tspan></text></g>
<g id="b-y27"><rect class="y" x="1662" y="197" width="49" height="25" rx="5"/><text class="t" x="1686.5" y="205.2">청소/환기<tspan x="1686.5" dy="8.6">정리</tspan></text></g>
<g id="b-y28"><rect class="y" x="1662" y="234" width="49" height="41" rx="5"/><text class="t" x="1686.5" y="245.9">다음날<tspan x="1686.5" dy="8.6">이유식 /모유</tspan><tspan x="1686.5" dy="8.6">얼려놓기</tspan></text></g>
<g id="b-y29"><rect class="y" x="1662" y="284" width="49" height="23" rx="5"/><text class="t" x="1686.5" y="295.5">저녁준비</text></g>
<g id="b-y30"><rect class="y" x="1730" y="199" width="49" height="21" rx="5"/><text class="t" x="1754.5" y="205.2">좋은 수면 환경<tspan x="1754.5" dy="8.6">만들어주고싶음</tspan></text></g>
<g id="b-y31"><rect class="y" x="1730" y="228" width="49" height="23" rx="5"/><text class="t" x="1754.5" y="235.2">아이 잠시 확인<tspan x="1754.5" dy="8.6">할 때 조명 주의</tspan></text></g>
<g id="b-y32"><rect class="y" x="1730" y="259" width="49" height="24" rx="5"/><text class="t" x="1754.5" y="266.7">아이 수면자세<tspan x="1754.5" dy="8.6">체크</tspan></text></g>
<g id="b-y33"><rect class="y" x="1730" y="290" width="49" height="22" rx="5"/><text class="t" x="1754.5" y="296.7">아이 수면상태<tspan x="1754.5" dy="8.6">확인</tspan></text></g>
<g id="b-y34"><rect class="y" x="1730" y="318" width="49" height="24" rx="5"/><text class="t" x="1754.5" y="325.7">기저귀<tspan x="1754.5" dy="8.6">확인</tspan></text></g>
<g id="b-y35"><rect class="y" x="1730" y="348" width="49" height="23" rx="5"/><text class="t" x="1754.5" y="355.2">아이 수시로<tspan x="1754.5" dy="8.6">깸</tspan></text></g>
<g id="b-y36"><rect class="y" x="1793" y="203" width="49" height="22" rx="5"/><text class="t" x="1817.5" y="214">야간수유</text></g>
<g id="b-y37"><rect class="y" x="1793" y="237" width="49" height="24" rx="5"/><text class="t" x="1817.5" y="244.7">수시로 수유<tspan x="1817.5" dy="8.6">(월령별 상이)</tspan></text></g>
<g id="b-y38"><rect class="y" x="1793" y="271" width="49" height="22" rx="5"/><text class="t" x="1817.5" y="282">유축기 사용</text></g>
<g id="b-y39"><rect class="y" x="1793" y="305" width="49" height="23" rx="5"/><text class="t" x="1817.5" y="316.5">울면 확인</text></g>
<g id="b-y40"><rect class="y" x="1793" y="339" width="49" height="34" rx="5"/><text class="t" x="1817.5" y="347.4">애기 울면서<tspan x="1817.5" dy="8.6">깨면 아이</tspan><tspan x="1817.5" dy="8.6">달래기</tspan></text></g>
<g id="b-y41"><rect class="y" x="1852" y="203" width="49" height="22" rx="5"/><text class="t" x="1876.5" y="214">본인 취침</text></g>
<g id="b-y42"><rect class="y" x="1852" y="239" width="49" height="23" rx="5"/><text class="t" x="1876.5" y="246.2">컨디션 지키기,<tspan x="1876.5" dy="8.6">푹 쉬어야함</tspan></text></g>
<g id="b-y43"><rect class="y" x="1852" y="271" width="49" height="22" rx="5"/><text class="t" x="1876.5" y="277.7">중간중간<tspan x="1876.5" dy="8.6">유축기사용</tspan></text></g>
<g id="b-y44"><rect class="y" x="1852" y="305" width="49" height="23" rx="5"/><text class="t" x="1876.5" y="312.2">수면자세<tspan x="1876.5" dy="8.6">체크</tspan></text></g>
<g id="b-y45"><rect class="y" x="1852" y="339" width="49" height="32" rx="5"/><text class="t" x="1876.5" y="346.4">수유시간에<tspan x="1876.5" dy="8.6">조용히</tspan><tspan x="1876.5" dy="8.6">일어나기</tspan></text></g>
<g id="b-y46"><rect class="y" x="1915" y="202" width="48" height="23" rx="5"/><text class="t" x="1939" y="209.2">응급실<tspan x="1939" dy="8.6">다녀오기</tspan></text></g>
<g id="b-y47"><rect class="y" x="1915" y="240" width="48" height="23" rx="5"/><text class="t" x="1939" y="247.2">갑자기<tspan x="1939" dy="8.6">아플경우 대처</tspan></text></g>

<g id="b-p1"><rect class="p" x="1170" y="413" width="49" height="30" rx="5"/><text class="t" x="1194.5" y="419.4">아이 깨기전에<tspan x="1194.5" dy="8.6">분유/수유</tspan><tspan x="1194.5" dy="8.6">준비 해두기</tspan></text></g>
<g id="b-p2"><rect class="p" x="1231" y="413" width="50" height="30" rx="5"/><text class="t" x="1256" y="419.4">아이상태<tspan x="1256" dy="8.6">체크하다보면</tspan><tspan x="1256" dy="8.6">빼먹을만한요소</tspan></text></g>
<g id="b-p3"><rect class="p" x="1289" y="414" width="51" height="33" rx="5"/><text class="t" x="1314.5" y="421.9">외출할일있으면<tspan x="1314.5" dy="8.6">날씨 확인하기</tspan><tspan x="1314.5" dy="8.6">번거로움</tspan></text></g>
<g id="b-p4"><rect class="p" x="1289" y="453" width="51" height="32" rx="5"/><text class="t" x="1314.5" y="460.4">애가 타이밍<tspan x="1314.5" dy="8.6">나쁘게 깨면</tspan><tspan x="1314.5" dy="8.6">아침에 낭패</tspan></text></g>
<g id="b-p5"><rect class="p" x="1289" y="494" width="51" height="32" rx="5"/><text class="t" x="1314.5" y="501.4">바빠죽겠는데<tspan x="1314.5" dy="8.6">애는 예쁘나</tspan><tspan x="1314.5" dy="8.6">싫은 순간들</tspan></text></g>
<g id="b-p6"><rect class="p" x="1353" y="411" width="50" height="32" rx="5"/><text class="t" x="1378" y="418.4">남편 오기<tspan x="1378" dy="8.6">전까지</tspan><tspan x="1378" dy="8.6">혼자 일</tspan></text></g>
<g id="b-p7"><rect class="p" x="1353" y="452" width="50" height="41" rx="5"/><text class="t" x="1378" y="459.6">아이의 주의를<tspan x="1378" dy="8.6">끌기 위하여</tspan><tspan x="1378" dy="8.6">어쩔수없이</tspan><tspan x="1378" dy="8.6">스마트폰/TV</tspan></text></g>
<g id="b-p8"><rect class="p" x="1413" y="411" width="50" height="31" rx="5"/><text class="t" x="1438" y="417.9">아이가 원인<tspan x="1438" dy="8.6">모르게 울어도</tspan><tspan x="1438" dy="8.6">혼자 커버</tspan></text></g>
<g id="b-p9"><rect class="p" x="1413" y="451" width="50" height="32" rx="5"/><text class="t" x="1438" y="458.4">뭐하고<tspan x="1438" dy="8.6">놀아줘야할지</tspan><tspan x="1438" dy="8.6">정보 부족</tspan></text></g>
<g id="b-p10"><rect class="p" x="1413" y="492" width="50" height="41" rx="5"/><text class="t" x="1438" y="499.6">주변이 밝기<tspan x="1438" dy="8.6">때문에 수면</tspan><tspan x="1438" dy="8.6">환경 케어에</tspan><tspan x="1438" dy="8.6">더 신경써야함</tspan></text></g>
<g id="b-p11"><rect class="p" x="1413" y="542" width="50" height="32" rx="5"/><text class="t" x="1438" y="549.4">주변소음<tspan x="1438" dy="8.6">문제가 있다</tspan><tspan x="1438" dy="8.6">(수면환경)</tspan></text></g>
<g id="b-p12"><rect class="p" x="1473" y="413" width="48" height="22" rx="5"/><text class="t" x="1497" y="419.7">외출이<tspan x="1497" dy="8.6">힘들다</tspan></text></g>
<g id="b-p13"><rect class="p" x="1473" y="443" width="48" height="34" rx="5"/><text class="t" x="1497" y="451.4">맘커뮤니티<tspan x="1497" dy="8.6">참석할때</tspan><tspan x="1497" dy="8.6">힘이든다</tspan></text></g>
<g id="b-p14"><rect class="p" x="1538" y="413" width="48" height="32" rx="5"/><text class="t" x="1562" y="420.4">아이와 둘이<tspan x="1562" dy="8.6">있다면 도움</tspan><tspan x="1562" dy="8.6">받을사람x</tspan></text></g>
<g id="b-p15"><rect class="p" x="1600" y="414" width="50" height="33" rx="5"/><text class="t" x="1625" y="421.9">놀아주기<tspan x="1625" dy="8.6">방법에 대한</tspan><tspan x="1625" dy="8.6">정보 부족</tspan></text></g>
<g id="b-p16"><rect class="p" x="1600" y="457" width="50" height="33" rx="5"/><text class="t" x="1625" y="464.9">쉬고싶은데<tspan x="1625" dy="8.6">아기가</tspan><tspan x="1625" dy="8.6">우는경우</tspan></text></g>
<g id="b-p17"><rect class="p" x="1600" y="502" width="50" height="33" rx="5"/><text class="t" x="1625" y="509.9">남편과 대화<tspan x="1625" dy="8.6">할때도 아이</tspan><tspan x="1625" dy="8.6">신경써야함</tspan></text></g>
<g id="b-p18"><rect class="p" x="1661" y="415" width="50" height="34" rx="5"/><text class="t" x="1686" y="427.7">이유식에 대한<tspan x="1686" dy="8.6">정보 부족</tspan></text></g>
<g id="b-p19"><rect class="p" x="1661" y="456" width="50" height="34" rx="5"/><text class="t" x="1686" y="468.7">월령별<tspan x="1686" dy="8.6">섭취가능 음식</tspan></text></g>
<g id="b-p20"><rect class="p" x="1661" y="498" width="50" height="32" rx="5"/><text class="t" x="1686" y="505.4">수유맘의 경우<tspan x="1686" dy="8.6">본인섭취가능</tspan><tspan x="1686" dy="8.6">음식 정보</tspan></text></g>
<g id="b-p21"><rect class="p" x="1730" y="417" width="49" height="32" rx="5"/><text class="t" x="1754.5" y="424.4">온/습도 등<tspan x="1754.5" dy="8.6">최적의 수면환경</tspan><tspan x="1754.5" dy="8.6">만들기 어려움</tspan></text></g>
<g id="b-p22"><rect class="p" x="1730" y="458" width="49" height="42" rx="5"/><text class="t" x="1754.5" y="466.1">애기 확인위해<tspan x="1754.5" dy="8.6">갑자기 조명</tspan><tspan x="1754.5" dy="8.6">밝아질경우</tspan><tspan x="1754.5" dy="8.6">아이가 놀람</tspan></text></g>
<g id="b-p23"><rect class="p" x="1730" y="509" width="49" height="23" rx="5"/><text class="t" x="1754.5" y="516.2">아이도 어른도<tspan x="1754.5" dy="8.6">눈이 부심</tspan></text></g>
<g id="b-p24"><rect class="p" x="1730" y="540" width="49" height="22" rx="5"/><text class="t" x="1754.5" y="546.7">먼지 알레르기<tspan x="1754.5" dy="8.6">발생 위험</tspan></text></g>
<g id="b-p25"><rect class="p" x="1730" y="573" width="49" height="31" rx="5"/><text class="t" x="1754.5" y="579.9">현재수면환경이<tspan x="1754.5" dy="8.6">아이기준에서는</tspan><tspan x="1754.5" dy="8.6">어떨지 모르겠음</tspan></text></g>
<g id="b-p26"><rect class="p" x="1793" y="415" width="49" height="43" rx="5"/><text class="t" x="1817.5" y="423.6">아기가<tspan x="1817.5" dy="8.6">자주깨서</tspan><tspan x="1817.5" dy="8.6">수면패턴을</tspan><tspan x="1817.5" dy="8.6">찾기어렵다</tspan></text></g>
<g id="b-p27"><rect class="p" x="1793" y="467" width="49" height="33" rx="5"/><text class="t" x="1817.5" y="474.9">아이가 깨지<tspan x="1817.5" dy="8.6">않도록 조용히</tspan><tspan x="1817.5" dy="8.6">유축 어려움</tspan></text></g>
<g id="b-p28"><rect class="p" x="1793" y="509" width="49" height="53" rx="5"/><text class="t" x="1817.5" y="518.3">수유, 유축기<tspan x="1817.5" dy="8.6">사용시간</tspan><tspan x="1817.5" dy="8.6">내가들으려</tspan><tspan x="1817.5" dy="8.6">맞춘알람에</tspan><tspan x="1817.5" dy="8.6">아이가 깬다</tspan></text></g>
<g id="b-p29"><rect class="p" x="1793" y="572" width="49" height="33" rx="5"/><text class="t" x="1817.5" y="579.9">수유맘은<tspan x="1817.5" dy="8.6">수시로 일어나</tspan><tspan x="1817.5" dy="8.6">유축기 사용</tspan></text></g>
<g id="b-p30"><rect class="p" x="1852" y="415" width="49" height="43" rx="5"/><text class="t" x="1876.5" y="423.6">애기가 우는<tspan x="1876.5" dy="8.6">상황 등에</tspan><tspan x="1876.5" dy="8.6">확인할때</tspan><tspan x="1876.5" dy="8.6">조명을 적당히</tspan></text></g>
<g id="b-p31"><rect class="p" x="1852" y="467" width="49" height="23" rx="5"/><text class="t" x="1876.5" y="474.2">나도좀<tspan x="1876.5" dy="8.6">자고싶다</tspan></text></g>
<g id="b-p32"><rect class="p" x="1915" y="415" width="48" height="34" rx="5"/><text class="t" x="1939" y="423.4">아이 갑자기<tspan x="1939" dy="8.6">열오르면</tspan><tspan x="1939" dy="8.6">응급실행</tspan></text></g>

<g id="b-frame"><rect class="of" x="1150" y="107" width="838.5" height="511.5"/><path class="of" d="M1344.5 107V618.5M1596.5 107V618.5M1718.5 107V618.5"/></g>
<g id="b-digits">
<text class="dg" transform="translate(1254 391) scale(1 0.74)">1</text>
<text class="dg" transform="translate(1468 391) scale(1 0.74)">2</text>
<text class="dg" transform="translate(1655 391) scale(1 0.74)">3</text>
<text class="dg" transform="translate(1847 391) scale(1 0.74)">4</text>
</g>
<rect id="b-focus" class="dash" x="1710" y="84" width="289" height="560" rx="20"/>
</g>

<g id="connectors"></g>

<g id="captions">
<text class="cap" x="545" y="716">사용자여정지도 시각화_① 맞벌이가정</text>
<text class="cap" x="1569" y="716">사용자여정지도 시각화_② 전업주부가정</text>
</g>
</svg>
